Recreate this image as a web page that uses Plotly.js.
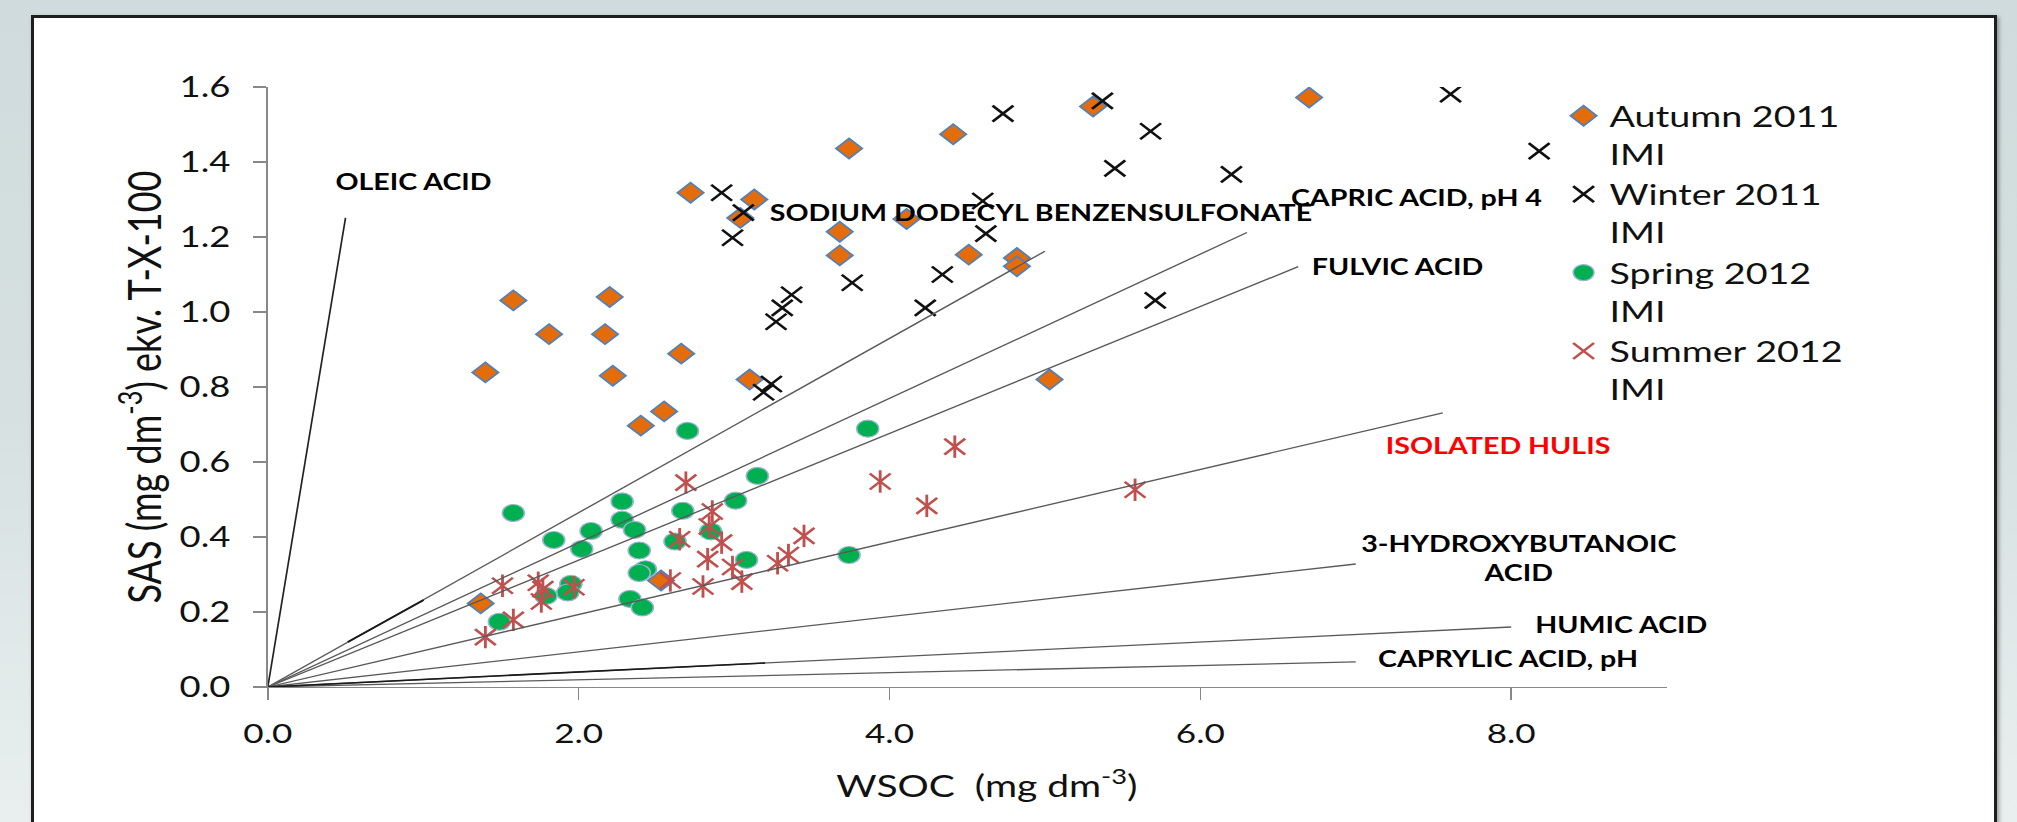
<!DOCTYPE html>
<html><head><meta charset="utf-8">
<script src="https://cdn.plot.ly/plotly-3.0.1.min.js"></script>
<style>
html,body{margin:0;padding:0;width:2017px;height:822px;overflow:hidden;}
body{background:linear-gradient(to bottom,#cfdbdc 0%,#d6e0e1 50%,#e9efef 100%);position:relative;}
#panel{position:absolute;left:31px;top:15px;width:1960px;height:840px;background:#fff;border:3px solid #1e1e1e;box-shadow:2px 2px 4px rgba(0,0,0,0.35);}
#chart{position:absolute;left:0;top:0;width:1552px;height:822px;transform:scaleX(1.3);transform-origin:0 0;}
</style></head>
<body><div id="panel"></div><div id="chart"></div>
<script>
// ---- data ----
const autumnX = [3.74,4.41,2.72,3.13,3.04,4.11,3.68,3.68,1.58,2.20,1.81,2.17,2.66,1.40,2.22,3.10,5.31,6.70,4.51,4.82,4.82,5.03,2.55,2.40,1.37,2.53];
const autumnY = [1.436,1.474,1.318,1.300,1.251,1.248,1.214,1.151,1.031,1.040,0.941,0.941,0.889,0.839,0.830,0.820,1.548,1.572,1.153,1.144,1.122,0.820,0.735,0.697,0.223,0.284];

const winterX = [2.92,3.06,2.99,3.37,3.31,3.27,3.76,4.34,4.23,3.24,3.19,4.73,5.37,5.68,5.45,6.20,7.61,8.18,4.60,4.62,5.71];
const winterY = [1.318,1.265,1.198,1.046,1.011,0.974,1.078,1.100,1.011,0.808,0.786,1.529,1.563,1.482,1.383,1.367,1.581,1.429,1.296,1.209,1.031];

const springX = [2.70,3.86,1.58,3.15,3.01,2.28,2.28,2.67,2.08,1.84,2.36,2.02,2.39,2.85,2.62,2.43,2.39,3.08,1.95,1.93,1.79,2.33,2.41,1.49,3.74];
const springY = [0.683,0.689,0.464,0.563,0.497,0.495,0.446,0.470,0.416,0.392,0.419,0.368,0.364,0.415,0.388,0.314,0.304,0.339,0.275,0.252,0.243,0.235,0.212,0.174,0.352];

const summerX = [4.42,3.94,4.24,2.69,2.86,2.84,2.65,2.92,3.45,3.35,2.83,2.99,3.28,3.05,2.80,2.59,1.51,1.74,1.77,1.97,1.76,1.58,1.40,5.58];
const summerY = [0.641,0.548,0.483,0.545,0.468,0.428,0.394,0.385,0.403,0.352,0.341,0.320,0.330,0.281,0.268,0.284,0.270,0.278,0.261,0.266,0.228,0.179,0.133,0.526];

const seriesNames = ['Autumn 2011<br>IMI','Winter 2011<br>IMI','Spring 2012<br>IMI','Summer 2012<br>IMI'];

// reference compound lines from origin
const refNames = ['OLEIC ACID','SODIUM DODECYL BENZENSULFONATE','CAPRIC ACID, pH 4','FULVIC ACID','ISOLATED HULIS','3-HYDROXYBUTANOIC<br>ACID','HUMIC ACID','CAPRYLIC ACID, pH'];
const refEndX = [0.50,5.00,6.30,6.63,7.56,7.00,8.00,7.00];
const refEndY = [1.251,1.162,1.212,1.121,0.731,0.328,0.160,0.067];
const labelX = [0.42,3.21,6.57,6.70,7.18,8.05,8.14,7.13];
const labelY = [1.348,1.265,1.305,1.121,0.643,0.343,0.168,0.077];
// darker overlapping segments
const segX0 = [0.515,0.0], segY0 = [0.120,0.0], segX1 = [1.003,3.2], segY1 = [0.232,0.064];

const xTickVals = [0,2,4,6,8];
const yTickVals = [0,0.2,0.4,0.6,0.8,1.0,1.2,1.4,1.6];

// ---- traces ----
const FONT = 'Lato, "Open Sans", sans-serif';
const LBLFONT = 'Lato, "Open Sans", sans-serif';
const traces = [];
traces.push({x:autumnX,y:autumnY,name:seriesNames[0],type:'scatter',mode:'markers',
  marker:{symbol:'diamond',size:15.5,color:'#E46C0A',line:{color:'#4F81BD',width:1.6}}});
traces.push({x:winterX,y:winterY,name:seriesNames[1],type:'scatter',mode:'markers',
  marker:{symbol:'x-thin-open',size:16,color:'#111111',line:{color:'#111111',width:2.3}}});
traces.push({x:springX,y:springY,name:seriesNames[2],type:'scatter',mode:'markers',
  marker:{symbol:'circle',size:17,color:'#00B050',line:{color:'#9DB3D6',width:1.2}}});
traces.push({x:summerX,y:summerY,name:seriesNames[3],type:'scatter',mode:'markers',
  marker:{symbol:'x-thin-open',size:16,color:'#C0504D',line:{color:'#C0504D',width:2.2}}});
traces.push({x:summerX,y:summerY,name:seriesNames[3],type:'scatter',mode:'markers',showlegend:false,
  marker:{symbol:'line-ns-open',size:16,color:'#C0504D',line:{color:'#C0504D',width:2.2}}});

refEndX.forEach((ex,i)=>{
  traces.push({x:[0,ex],y:[0,refEndY[i]],type:'scatter',mode:'lines',showlegend:false,hoverinfo:'skip',
    line:{color: i===0 ? '#222222' : '#5a5a5a', width:1.3}});
});
segX0.forEach((sx,i)=>{
  traces.push({x:[sx,segX1[i]],y:[segY0[i],segY1[i]],type:'scatter',mode:'lines',showlegend:false,hoverinfo:'skip',
    line:{color:'#1a1a1a',width:1.6}});
});

const annotations = refNames.map((t,i)=>({
  x:labelX[i], y:labelY[i], xref:'x', yref:'y', text:t, showarrow:false,
  xanchor: i===5 ? 'center' : 'left', yanchor:'middle', align:'center',
  font:{family:LBLFONT, size:22, color: i===4 ? '#FF0000' : '#000000', weight:'bold'}
}));

const layout = {
  width:1552, height:822,
  margin:{l:206,r:270,t:87,b:135,autoexpand:false},
  paper_bgcolor:'rgba(0,0,0,0)', plot_bgcolor:'rgba(0,0,0,0)',
  font:{family:FONT,color:'#000'},
  showlegend:true,
  legend:{xref:'container',yref:'container',x:0.772,y:0.89,xanchor:'left',yanchor:'top',
    font:{family:FONT,size:29,color:'#111'},valign:'top',bgcolor:'rgba(0,0,0,0)',tracegroupgap:0},
  xaxis:{range:[0,9],tickvals:xTickVals,tickformat:'.1f',showgrid:false,zeroline:false,
    showline:true,linecolor:'#888',linewidth:1.2,ticks:'outside',ticklen:12,tickcolor:'#888',tickwidth:1.2,
    tickfont:{family:FONT,size:27,color:'#111'},ticklabelstandoff:10,
    title:{text:'&nbsp;&nbsp;&nbsp;&nbsp;WSOC&nbsp; (mg dm<sup>-3</sup>)',font:{family:FONT,size:30,color:'#111'},standoff:28}},
  yaxis:{range:[0,1.6],tickvals:yTickVals,tickformat:'.1f',showgrid:false,zeroline:false,
    showline:true,linecolor:'#888',linewidth:1.2,ticks:'outside',ticklen:10,tickcolor:'#888',tickwidth:1.2,
    tickfont:{family:FONT,size:28,color:'#111'},ticklabelstandoff:12,
    title:{text:'SAS (mg dm<sup>-3</sup>) ekv. T-X-100',font:{family:FONT,size:36,color:'#111'},standoff:2}},
  annotations:annotations
};
Plotly.newPlot('chart',traces,layout,{staticPlot:true,displayModeBar:false});
</script></body></html>
